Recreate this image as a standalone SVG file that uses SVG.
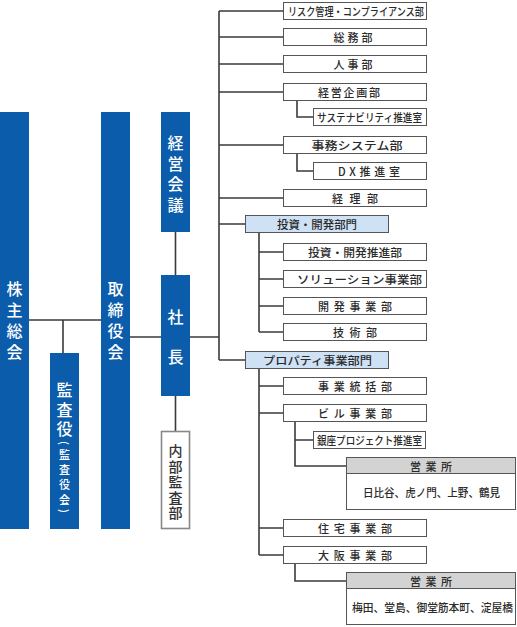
<svg xmlns="http://www.w3.org/2000/svg" width="517" height="627" viewBox="0 0 517 627">
<style>
.blue{fill:#0b5cab;}
.v{font-family:"Noto Sans CJK JP","Noto Sans",sans-serif;font-weight:500;writing-mode:vertical-rl;text-anchor:start;}
.vw{fill:#ffffff;font-size:16px;}
.vd{fill:#333333;font-size:14px;letter-spacing:1.5px;}
.box{fill:#ffffff;stroke:#555555;stroke-width:1;}
.div{fill:#cfe1f4;stroke:#555555;stroke-width:1;}
.hdr{fill:#d3d3d3;stroke:#555555;stroke-width:1;}
.t{fill:#2a2a2a;font-family:"Noto Sans CJK JP","Noto Sans",sans-serif;font-size:11px;font-weight:500;text-anchor:middle;dominant-baseline:central;}
.ln{fill:none;stroke:#3a3a3a;stroke-width:1.6;}
</style>
<g id="connectors">
<path class="ln" d="M29 320H101M63 320V353M130 337H161M190 337H219M175.5 232V275M175.5 396V431"/>
<path class="ln" d="M219 11V360M219 11H283M219 37H283M219 64H283M219 92H283M219 145H283M219 198H283M219 224H245M219 360H245"/>
<path class="ln" d="M297 100V117H313M297 153V171H313"/>
<path class="ln" d="M259 233V332M259 252H283M259 279H283M259 306H283M259 332H283"/>
<path class="ln" d="M259 368V555M259 386H283M259 413H283M259 528H283M259 555H283"/>
<path class="ln" d="M295 422V466H346M295 440H313M295 563V581H346"/>
</g>
<g id="shareholders">
<rect class="blue" x="0" y="112" width="29" height="417"/>
<text class="v vw" x="14.5" y="281" letter-spacing="5">株主総会</text>
</g>
<g id="board">
<rect class="blue" x="101" y="112" width="29" height="417"/>
<text class="v vw" x="115.5" y="281" letter-spacing="5">取締役会</text>
</g>
<g id="auditors">
<rect class="blue" x="50" y="353" width="29" height="176"/>
<text class="v vw" x="64.5" y="382" letter-spacing="3.5">監査役<tspan font-size="11" letter-spacing="4">(監査役会)</tspan></text>
</g>
<g id="management-meeting">
<rect class="blue" x="161" y="112" width="29" height="120"/>
<text class="v vw" x="175.5" y="135" letter-spacing="4.7">経営会議</text>
</g>
<g id="president">
<rect class="blue" x="161" y="275" width="29" height="121"/>
<text class="v vw" x="175.5" y="309" letter-spacing="24">社長</text>
</g>
<g id="internal-audit">
<rect x="161.5" y="431.5" width="28" height="97" fill="#ffffff" stroke="#888888" stroke-width="1.6"/>
<text class="v vd" x="175.5" y="444">内部監査部</text>
</g>
<g id="risk"><rect class="box" x="283.5" y="2.5" width="143" height="17"/><text class="t" x="356" y="11" textLength="136" lengthAdjust="spacingAndGlyphs">リスク管理・コンプライアンス部</text></g>
<g id="general"><rect class="box" x="283.5" y="28.5" width="143" height="17"/><text class="t" x="353" y="37" textLength="39" lengthAdjust="spacing">総務部</text></g>
<g id="hr"><rect class="box" x="283.5" y="55.5" width="143" height="17"/><text class="t" x="353" y="64" textLength="39" lengthAdjust="spacing">人事部</text></g>
<g id="planning"><rect class="box" x="283.5" y="83.5" width="143" height="17"/><text class="t" x="349" y="92" textLength="62" lengthAdjust="spacing">経営企画部</text></g>
<g id="sustainability"><rect class="box" x="313.5" y="108.5" width="113" height="17"/><text class="t" x="369.5" y="117" textLength="105" lengthAdjust="spacingAndGlyphs">サステナビリティ推進室</text></g>
<g id="systems"><rect class="box" x="283.5" y="136.5" width="143" height="17"/><text class="t" x="357" y="145" textLength="91" lengthAdjust="spacingAndGlyphs">事務システム部</text></g>
<g id="dx"><rect class="box" x="313.5" y="162.5" width="113" height="17"/><text class="t" x="369" y="171" textLength="62" lengthAdjust="spacing">DX推進室</text></g>
<g id="accounting"><rect class="box" x="283.5" y="189.5" width="143" height="17"/><text class="t" x="355" y="198" textLength="46" lengthAdjust="spacing">経理部</text></g>
<g id="investment-division"><rect class="div" x="245.5" y="215.5" width="143" height="17"/><text class="t" x="317" y="224" textLength="80" lengthAdjust="spacingAndGlyphs">投資・開発部門</text></g>
<g id="investment-promo"><rect class="box" x="283.5" y="243.5" width="143" height="17"/><text class="t" x="355" y="252" textLength="94" lengthAdjust="spacingAndGlyphs">投資・開発推進部</text></g>
<g id="solution"><rect class="box" x="283.5" y="270.5" width="143" height="17"/><text class="t" x="359.5" y="279" textLength="125" lengthAdjust="spacingAndGlyphs">ソリューション事業部</text></g>
<g id="development"><rect class="box" x="283.5" y="297.5" width="143" height="17"/><text class="t" x="355" y="306" textLength="74" lengthAdjust="spacing">開発事業部</text></g>
<g id="technology"><rect class="box" x="283.5" y="323.5" width="143" height="17"/><text class="t" x="355" y="332" textLength="44" lengthAdjust="spacing">技術部</text></g>
<g id="property-division"><rect class="div" x="245.5" y="351.5" width="143" height="17"/><text class="t" x="317.5" y="360" textLength="109" lengthAdjust="spacingAndGlyphs">プロパティ事業部門</text></g>
<g id="business-control"><rect class="box" x="283.5" y="377.5" width="143" height="17"/><text class="t" x="355" y="386" textLength="74" lengthAdjust="spacing">事業統括部</text></g>
<g id="building"><rect class="box" x="283.5" y="404.5" width="143" height="17"/><text class="t" x="355" y="413" textLength="74" lengthAdjust="spacing">ビル事業部</text></g>
<g id="ginza"><rect class="box" x="313.5" y="431.5" width="112" height="17"/><text class="t" x="369.5" y="440" textLength="105" lengthAdjust="spacingAndGlyphs">銀座プロジェクト推進室</text></g>
<g id="office-tokyo"><rect class="box" x="346.5" y="457.5" width="169" height="52"/><rect class="hdr" x="346.5" y="457.5" width="169" height="16"/><text class="t" x="431" y="465.5" textLength="42" lengthAdjust="spacing">営業所</text><text class="t" x="431.5" y="491.5" textLength="137" lengthAdjust="spacingAndGlyphs">日比谷、虎ノ門、上野、鶴見</text></g>
<g id="residential"><rect class="box" x="283.5" y="519.5" width="143" height="17"/><text class="t" x="355" y="528" textLength="74" lengthAdjust="spacing">住宅事業部</text></g>
<g id="osaka"><rect class="box" x="283.5" y="546.5" width="143" height="17"/><text class="t" x="355" y="555" textLength="74" lengthAdjust="spacing">大阪事業部</text></g>
<g id="office-osaka"><rect class="box" x="346.5" y="572.5" width="169" height="52"/><rect class="hdr" x="346.5" y="572.5" width="169" height="16"/><text class="t" x="431" y="580.5" textLength="42" lengthAdjust="spacing">営業所</text><text class="t" x="432.5" y="606.5" textLength="161" lengthAdjust="spacingAndGlyphs">梅田、堂島、御堂筋本町、淀屋橋</text></g>
</svg>
